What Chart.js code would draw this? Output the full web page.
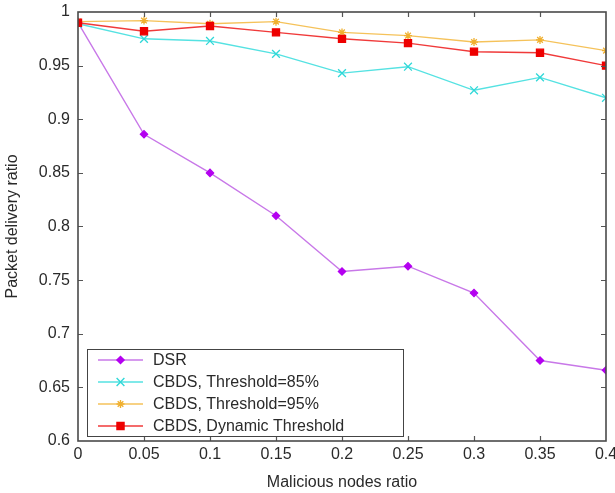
<!DOCTYPE html>
<html>
<head>
<meta charset="utf-8">
<script src="https://cdn.jsdelivr.net/npm/chart.js@4/dist/chart.umd.min.js"></script>
<style>
  html, body { margin: 0; padding: 0; background: #fff; }
  #wrap { width: 615px; height: 493px; }
</style>
</head>
<body>
<div id="wrap"><canvas id="myChart" width="615" height="493"></canvas></div>
<script>
'use strict';

let xValues = [0, 0.05, 0.1, 0.15, 0.2, 0.25, 0.3, 0.35, 0.4];
let dsrValues = [0.990, 0.886, 0.850, 0.810, 0.758, 0.763, 0.738, 0.675, 0.666];
let cbds85Values = [0.989, 0.975, 0.973, 0.961, 0.943, 0.949, 0.927, 0.939, 0.920];
let cbds95Values = [0.991, 0.992, 0.989, 0.991, 0.981, 0.978, 0.972, 0.974, 0.964];
let dynamicValues = [0.990, 0.982, 0.987, 0.981, 0.975, 0.971, 0.963, 0.962, 0.950];
let seriesNames = ['DSR', 'CBDS, Threshold=85%', 'CBDS, Threshold=95%', 'CBDS, Dynamic Threshold'];
let xTicks = [0, 0.05, 0.1, 0.15, 0.2, 0.25, 0.3, 0.35, 0.4];
let yTicks = [0.6, 0.65, 0.7, 0.75, 0.8, 0.85, 0.9, 0.95, 1];

let fontFamily = '"Liberation Sans", Arial, sans-serif';
let textColor = '#2a2a2a';

function toPoints(values) {
  let points = [];
  for (let i = 0; i < xValues.length; i++) {
    points.push({ x: xValues[i], y: values[i] });
  }
  return points;
}

let styles = [
  { line: '#c878e8', mark: '#b400f0', pointStyle: 'rectRot', radius: 3.6, order: 4 },
  { line: '#55e2e2', mark: '#30d8d8', pointStyle: 'crossRot', radius: 5.5, order: 3 },
  { line: '#f5c25a', mark: '#f0b030', pointStyle: 'star', radius: 4, order: 2 },
  { line: '#f03a3a', mark: '#ee0000', pointStyle: 'rect', radius: 5, order: 1 }
];
let allValues = [dsrValues, cbds85Values, cbds95Values, dynamicValues];

let datasets = [];
for (let i = 0; i < allValues.length; i++) {
  datasets.push({
    label: seriesNames[i],
    data: toPoints(allValues[i]),
    borderColor: styles[i].line,
    borderWidth: 1.4,
    pointStyle: styles[i].pointStyle,
    pointRadius: styles[i].radius,
    pointBackgroundColor: styles[i].mark,
    pointBorderColor: styles[i].mark,
    pointBorderWidth: 1.3,
    order: styles[i].order,
    tension: 0
  });
}

// inward ticks on all four sides + box frame
let frameTicks = {
  id: 'frameTicks',
  afterDatasetsDraw(chart) {
    let ctx = chart.ctx;
    let area = chart.chartArea;
    let xs = chart.scales.x;
    let ys = chart.scales.y;
    let len = 5;
    ctx.save();
    ctx.strokeStyle = '#555';
    ctx.lineWidth = 1.2;
    ctx.beginPath();
    for (let i = 1; i < xTicks.length - 1; i++) {
      let px = Math.round(xs.getPixelForValue(xTicks[i])) + 0.5;
      ctx.moveTo(px, area.bottom);
      ctx.lineTo(px, area.bottom - len);
      ctx.moveTo(px, area.top);
      ctx.lineTo(px, area.top + len);
    }
    for (let i = 1; i < yTicks.length - 1; i++) {
      let py = Math.round(ys.getPixelForValue(yTicks[i])) + 0.5;
      ctx.moveTo(area.left, py);
      ctx.lineTo(area.left + len, py);
      ctx.moveTo(area.right, py);
      ctx.lineTo(area.right - len, py);
    }
    ctx.stroke();
    ctx.strokeStyle = '#4a4a4a';
    ctx.lineWidth = 1.6;
    ctx.strokeRect(area.left, area.top, area.right - area.left, area.bottom - area.top);
    ctx.restore();
  },
  afterDraw(chart) {
    // legend box in lower left corner of plot
    let ctx = chart.ctx;
    let boxX = 87, boxY = 349, boxW = 316, boxH = 87;
    ctx.save();
    ctx.fillStyle = '#fff';
    ctx.fillRect(boxX, boxY, boxW, boxH);
    ctx.strokeStyle = '#444';
    ctx.lineWidth = 1;
    ctx.strokeRect(boxX + 0.5, boxY + 0.5, boxW, boxH);
    ctx.font = '16px ' + fontFamily;
    ctx.textBaseline = 'middle';
    for (let i = 0; i < seriesNames.length; i++) {
      let y = boxY + 11 + i * 22;
      ctx.strokeStyle = styles[i].line;
      ctx.lineWidth = 1.4;
      ctx.beginPath();
      ctx.moveTo(98, y);
      ctx.lineTo(143, y);
      ctx.stroke();
      ctx.fillStyle = styles[i].mark;
      ctx.strokeStyle = styles[i].mark;
      Chart.helpers.drawPoint(ctx, {
        pointStyle: styles[i].pointStyle,
        radius: styles[i].radius,
        borderWidth: 1.3,
        rotation: 0
      }, 120.5, y);
      ctx.fillStyle = textColor;
      ctx.fillText(seriesNames[i], 153, y + 1);
    }
    ctx.restore();
  }
};

const ctx = document.getElementById('myChart');

new Chart(ctx, {
  type: 'line',
  data: { datasets: datasets },
  options: {
    responsive: false,
    animation: false,
    layout: { padding: { top: 12, right: 9, left: 0, bottom: 0 } },
    plugins: {
      legend: { display: false },
      tooltip: { enabled: false }
    },
    scales: {
      x: {
        type: 'linear',
        min: 0,
        max: 0.4,
        grid: { display: false, drawTicks: false },
        border: { display: false },
        afterBuildTicks(scale) {
          scale.ticks = xTicks.map(v => ({ value: v }));
        },
        afterFit(scale) {
          scale.height = 52;
          scale.paddingLeft = 0;
          scale.paddingRight = 0;
        },
        ticks: {
          color: textColor,
          padding: 4,
          maxRotation: 0,
          autoSkip: false,
          font: { family: fontFamily, size: 16 },
          callback: v => String(+v.toFixed(2))
        },
        title: {
          display: true,
          text: 'Malicious nodes ratio',
          color: textColor,
          padding: { top: 0, bottom: 1 },
          font: { family: fontFamily, size: 16 }
        }
      },
      y: {
        min: 0.6,
        max: 1,
        grid: { display: false, drawTicks: false },
        border: { display: false },
        afterBuildTicks(scale) {
          scale.ticks = yTicks.map(v => ({ value: v }));
        },
        afterFit(scale) {
          scale.width = 78;
          scale.paddingTop = 0;
          scale.paddingBottom = 0;
        },
        ticks: {
          color: textColor,
          padding: 8,
          font: { family: fontFamily, size: 16 },
          callback: v => String(+v.toFixed(2))
        },
        title: {
          display: true,
          text: 'Packet delivery ratio',
          color: textColor,
          padding: { top: 3, bottom: 0 },
          font: { family: fontFamily, size: 16 }
        }
      }
    }
  },
  plugins: [frameTicks]
});
</script>
</body>
</html>
